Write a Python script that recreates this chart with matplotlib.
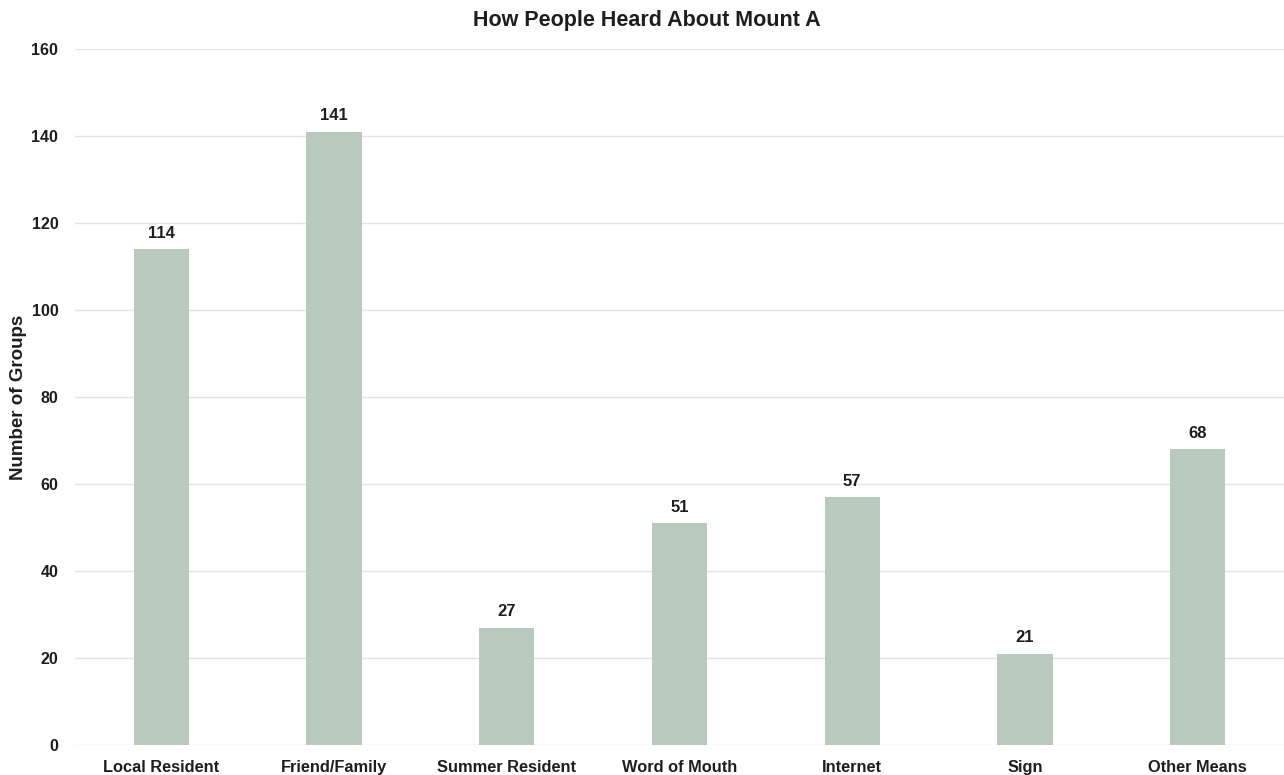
import matplotlib.pyplot as plt

plt.rcParams['font.family'] = ['Liberation Sans', 'DejaVu Sans']

categories = ["Local Resident", "Friend/Family", "Summer Resident", "Word of Mouth",
              "Internet", "Sign", "Other Means"]
counts = [114, 141, 27, 51, 57, 21, 68]
y_ticks = [0, 20, 40, 60, 80, 100, 120, 140, 160]

fig = plt.figure(figsize=(12.84, 7.75), dpi=100)
ax = fig.add_axes([0.0584, 0.0387, 0.9416, 0.8981])

x = range(len(categories))
bars = ax.bar(x, counts, width=0.32, color="#b9c9bd", zorder=3)

for b, v in zip(bars, counts):
    ax.annotate(str(v), (b.get_x() + b.get_width() / 2, v), xytext=(0, 6),
                textcoords="offset points", ha="center", va="bottom",
                fontsize=12, fontweight="bold", color="#1e1e1e")

ax.set_xlim(-0.5, len(categories) - 0.5)
ax.set_ylim(0, 160)
ax.set_yticks(y_ticks)
ax.set_xticks(list(x))
ax.set_xticklabels(categories)
ax.grid(axis="y", color="#e3e3e3", linewidth=1, zorder=0)
for s in ax.spines.values():
    s.set_visible(False)
ax.tick_params(length=0)
ax.tick_params(axis="y", pad=12, labelsize=11.5)
ax.tick_params(axis="x", pad=10.5, labelsize=11.8)
for lbl in ax.get_xticklabels() + ax.get_yticklabels():
    lbl.set_fontweight("bold")
    lbl.set_color("#1e1e1e")

ax.set_ylabel("Number of Groups", fontsize=13.5, fontweight="bold", color="#1e1e1e", labelpad=3)
fig.text(0.504, 0.974, "How People Heard About Mount A", ha="center", va="center",
         fontsize=15.5, fontweight="bold", color="#1e1e1e")

fig.savefig("out.png", dpi=100)
